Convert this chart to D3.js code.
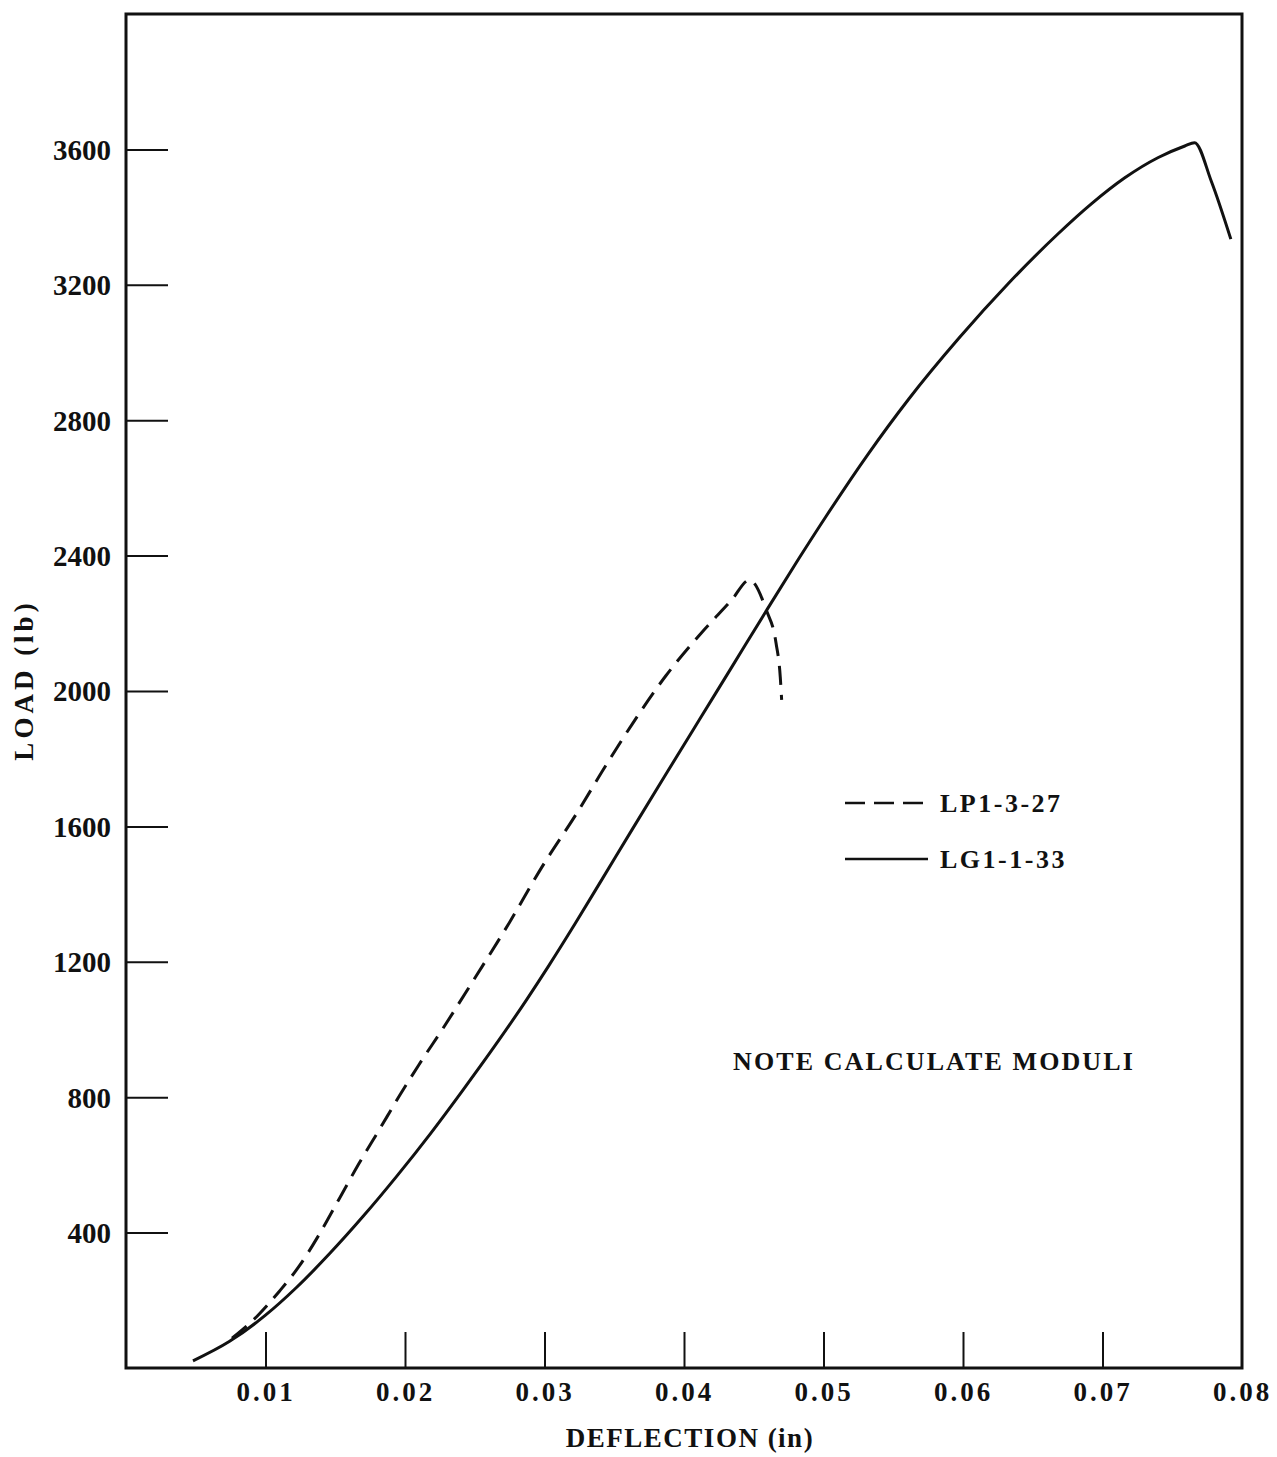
<!DOCTYPE html>
<html>
<head>
<meta charset="utf-8">
<script src="https://cdn.jsdelivr.net/npm/d3@7"></script>
<style>
  body { margin: 0; background: #fff; }
  text { font-family: "Liberation Serif", "Times New Roman", serif; font-weight: bold; fill: #111; }
</style>
</head>
<body>
<svg id="chart"></svg>
<script>
// LP1-3-27 (dashed)
var lpDefl = [0.0076, 0.0094, 0.0110, 0.01245, 0.0139, 0.0153, 0.0167, 0.0182, 0.0196, 0.0210, 0.0227, 0.0251, 0.0275, 0.0298, 0.0323, 0.0344, 0.0363, 0.0387, 0.0411, 0.0434, 0.0447, 0.0459, 0.0466, 0.0469, 0.0470];
var lpLoad = [88, 153, 227, 303, 398, 501, 604, 707, 804, 896, 1002, 1158, 1317, 1479, 1638, 1780, 1903, 2045, 2165, 2268, 2328, 2239, 2141, 2042, 1974];

// LG1-1-33 (solid)
var lgDefl = [0.0048, 0.0074, 0.0100, 0.0122, 0.0146, 0.0170, 0.0194, 0.0218, 0.0241, 0.0265, 0.0287, 0.0303, 0.0322, 0.0341, 0.0363, 0.0387, 0.0411, 0.0434, 0.0459, 0.0482, 0.0502, 0.0532, 0.0561, 0.0597, 0.0633, 0.0668, 0.0692, 0.0716, 0.0740, 0.0759, 0.0766, 0.0778, 0.0792];
var lgLoad = [21, 78, 156, 237, 338, 448, 566, 691, 818, 955, 1087, 1188, 1313, 1442, 1592, 1754, 1915, 2069, 2237, 2389, 2517, 2700, 2862, 3042, 3206, 3350, 3439, 3516, 3576, 3610, 3620, 3506, 3335];

var xTicks = [0.01, 0.02, 0.03, 0.04, 0.05, 0.06, 0.07, 0.08];
var yTicks = [400, 800, 1200, 1600, 2000, 2400, 2800, 3200, 3600];
var seriesNames = ["LP1-3-27", "LG1-1-33"];

var W = 1277, H = 1457;
var dash = "19,10";

var svg = d3.select("#chart")
    .attr("width", W)
    .attr("height", H);

var x = d3.scaleLinear()
    .domain([0, 0.08])
    .range([126, 1242]);

var y = d3.scaleLinear()
    .domain([0, 4000])
    .range([1368, 14]);

// frame
svg.append("rect")
    .attr("x", x(0))
    .attr("y", y(4000))
    .attr("width", x(0.08) - x(0))
    .attr("height", y(0) - y(4000))
    .attr("fill", "none")
    .attr("stroke", "#111")
    .attr("stroke-width", 3);

// y axis: ticks point inward, labels outside
var yAxis = svg.append("g")
    .attr("transform", "translate(" + x(0) + ",0)")
    .call(d3.axisLeft(y)
        .tickValues(yTicks)
        .tickSizeInner(-42)
        .tickSizeOuter(0)
        .tickPadding(15)
        .tickFormat(d3.format("d")));
yAxis.select(".domain").remove();
yAxis.selectAll(".tick line").attr("stroke", "#111").attr("stroke-width", 2);
yAxis.selectAll(".tick text")
    .attr("fill", "#111")
    .style("font-size", "29px")
    .attr("dy", "0.34em");

// x axis
var xAxis = svg.append("g")
    .attr("transform", "translate(0," + y(0) + ")")
    .call(d3.axisBottom(x)
        .tickValues(xTicks)
        .tickSizeInner(-36)
        .tickSizeOuter(0)
        .tickPadding(14)
        .tickFormat(d3.format(".2f")));
xAxis.select(".domain").remove();
xAxis.selectAll(".tick line")
    .attr("stroke", "#111")
    .attr("stroke-width", 2)
    .filter(function(d) { return d === 0.08; }).remove();
xAxis.selectAll(".tick text")
    .attr("fill", "#111")
    .style("font-size", "27px")
    .style("letter-spacing", "3px");

// axis titles
svg.append("text")
    .attr("x", 690)
    .attr("y", 1447)
    .attr("text-anchor", "middle")
    .style("font-size", "27px")
    .style("letter-spacing", "1.5px")
    .text("DEFLECTION (in)");

svg.append("text")
    .attr("transform", "translate(33,680) rotate(-90)")
    .attr("text-anchor", "middle")
    .style("font-size", "27px")
    .style("letter-spacing", "4px")
    .text("LOAD (lb)");

// curves
var line = d3.line()
    .x(function(d) { return x(d[0]); })
    .y(function(d) { return y(d[1]); })
    .curve(d3.curveMonotoneX);

var lpData = d3.zip(lpDefl, lpLoad);
var lgData = d3.zip(lgDefl, lgLoad);

svg.append("path")
    .datum(lgData)
    .attr("d", line)
    .attr("fill", "none")
    .attr("stroke", "#111")
    .attr("stroke-width", 3);

svg.append("path")
    .datum(lpData)
    .attr("d", line)
    .attr("fill", "none")
    .attr("stroke", "#111")
    .attr("stroke-width", 3)
    .attr("stroke-dasharray", dash);

// legend
var legend = svg.append("g");
seriesNames.forEach(function(name, i) {
  var ly = 803 + i * 56;
  legend.append("line")
      .attr("x1", 845).attr("x2", 928)
      .attr("y1", ly).attr("y2", ly)
      .attr("stroke", "#111")
      .attr("stroke-width", 2.5)
      .attr("stroke-dasharray", i === 0 ? "20,9" : null);
  legend.append("text")
      .attr("x", 940)
      .attr("y", ly + 9)
      .style("font-size", "26px")
      .style("letter-spacing", "2.5px")
      .text(name);
});

svg.append("text")
    .attr("x", 733)
    .attr("y", 1070)
    .style("font-size", "26px")
    .style("letter-spacing", "2.1px")
    .text("NOTE CALCULATE MODULI");
</script>
</body>
</html>
